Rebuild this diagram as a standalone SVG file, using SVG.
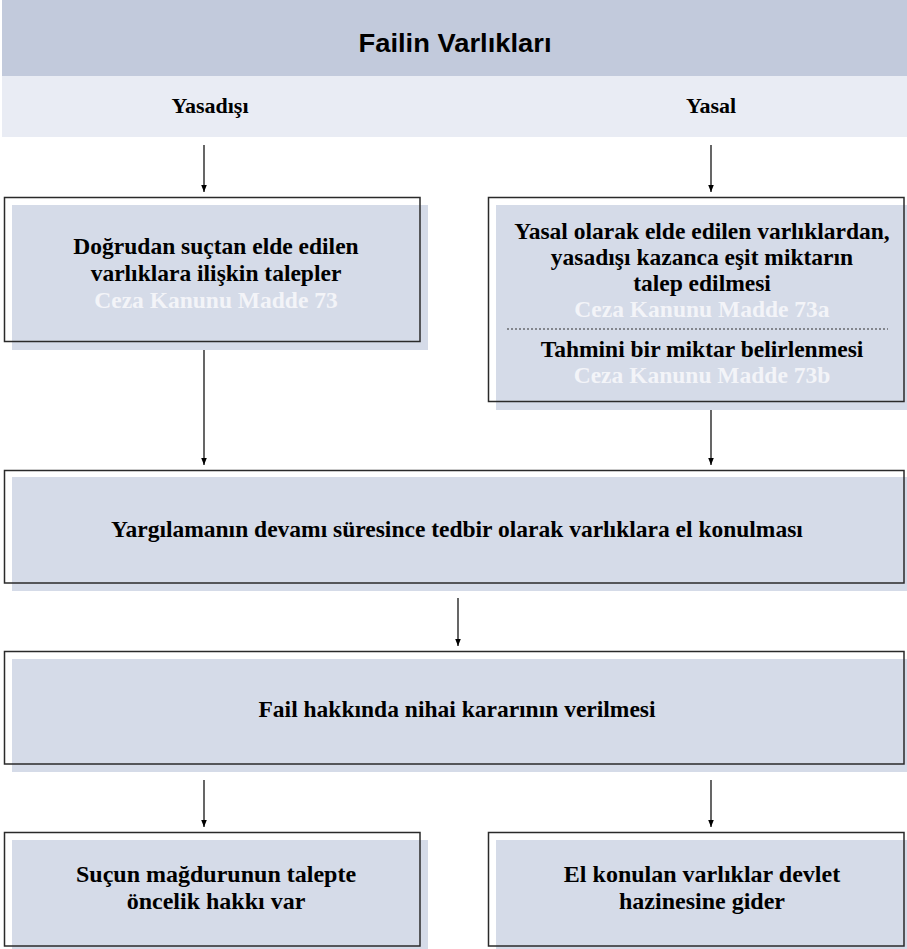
<svg xmlns="http://www.w3.org/2000/svg" width="907" height="949" viewBox="0 0 907 949">
<defs>
<marker id="arr" markerUnits="userSpaceOnUse" markerWidth="8" markerHeight="11" refX="10" refY="4" orient="auto" viewBox="0 0 11 8">
<path d="M0,0 L10,4 L0,8 Z" fill="#000"/>
</marker>
</defs>
<style>
.fill{fill:#d5dbe8}
.out{fill:none;stroke:#2a2a2a;stroke-width:1.5}
.t{font-family:"Liberation Serif",serif;font-weight:bold;font-size:23.5px;fill:#000;text-anchor:middle}
.h{font-size:22px}
.b{font-size:24px}
.w{fill:#f3f4f8}
.c{stroke:#000;stroke-width:1.2;fill:none;marker-end:url(#arr)}
</style>
<g id="header">
<rect x="2" y="0" width="905" height="76" fill="#c2cadc"/>
<rect x="2" y="76" width="905" height="61" fill="#e9ecf4"/>
<text x="455" y="52" font-family="Liberation Sans,sans-serif" font-weight="bold" font-size="25" text-anchor="middle" textLength="193" lengthAdjust="spacingAndGlyphs">Failin Varlıkları</text>
<text class="t h" x="210" y="113">Yasadışı</text>
<text class="t h" x="711" y="113">Yasal</text>
</g>
<g id="connectors">
<line class="c" x1="204" y1="145" x2="204" y2="192"/>
<line class="c" x1="711" y1="145" x2="711" y2="192"/>
<line class="c" x1="204" y1="350" x2="204" y2="465"/>
<line class="c" x1="711" y1="410" x2="711" y2="465"/>
<line class="c" x1="458" y1="598" x2="458" y2="646"/>
<line class="c" x1="204" y1="780" x2="204" y2="827"/>
<line class="c" x1="711" y1="780" x2="711" y2="827"/>
</g>
<g id="node-illegal">
<rect class="fill" x="12" y="205" width="416" height="145"/>
<rect class="out" x="4.5" y="197.5" width="415.5" height="144"/>
<text class="t" x="216" y="254">Doğrudan suçtan elde edilen</text>
<text class="t" x="216" y="281">varlıklara ilişkin talepler</text>
<text class="t w" x="216" y="308">Ceza Kanunu Madde 73</text>
</g>
<g id="node-legal">
<rect class="fill" x="496" y="205" width="411" height="205"/>
<rect class="out" x="488.5" y="197.5" width="415.5" height="204"/>
<text class="t" x="702" y="239">Yasal olarak elde edilen varlıklardan,</text>
<text class="t" x="702" y="265">yasadışı kazanca eşit miktarın</text>
<text class="t" x="702" y="291">talep edilmesi</text>
<text class="t w" x="702" y="317">Ceza Kanunu Madde 73a</text>
<line x1="507" y1="329" x2="888" y2="329" stroke="#333" stroke-width="1.2" stroke-dasharray="2,2"/>
<text class="t" x="702" y="357">Tahmini bir miktar belirlenmesi</text>
<text class="t w" x="702" y="383">Ceza Kanunu Madde 73b</text>
</g>
<g id="node-seizure">
<rect class="fill" x="12" y="477" width="895" height="114"/>
<rect class="out" x="4.5" y="470.5" width="899.5" height="112.5"/>
<text class="t" x="457" y="537">Yargılamanın devamı süresince tedbir olarak varlıklara el konulması</text>
</g>
<g id="node-decision">
<rect class="fill" x="12" y="659" width="895" height="113"/>
<rect class="out" x="4.5" y="651.5" width="899.5" height="112.5"/>
<text class="t" x="457" y="717">Fail hakkında nihai kararının verilmesi</text>
</g>
<g id="node-victim">
<rect class="fill" x="12" y="840" width="416" height="109"/>
<rect class="out" x="4.5" y="832.5" width="415.5" height="113.5"/>
<text class="t b" x="216" y="882">Suçun mağdurunun talepte</text>
<text class="t b" x="216" y="909">öncelik hakkı var</text>
</g>
<g id="node-treasury">
<rect class="fill" x="496" y="840" width="411" height="109"/>
<rect class="out" x="488.5" y="832.5" width="415.5" height="113.5"/>
<text class="t b" x="702" y="882">El konulan varlıklar devlet</text>
<text class="t b" x="702" y="909">hazinesine gider</text>
</g>
</svg>
